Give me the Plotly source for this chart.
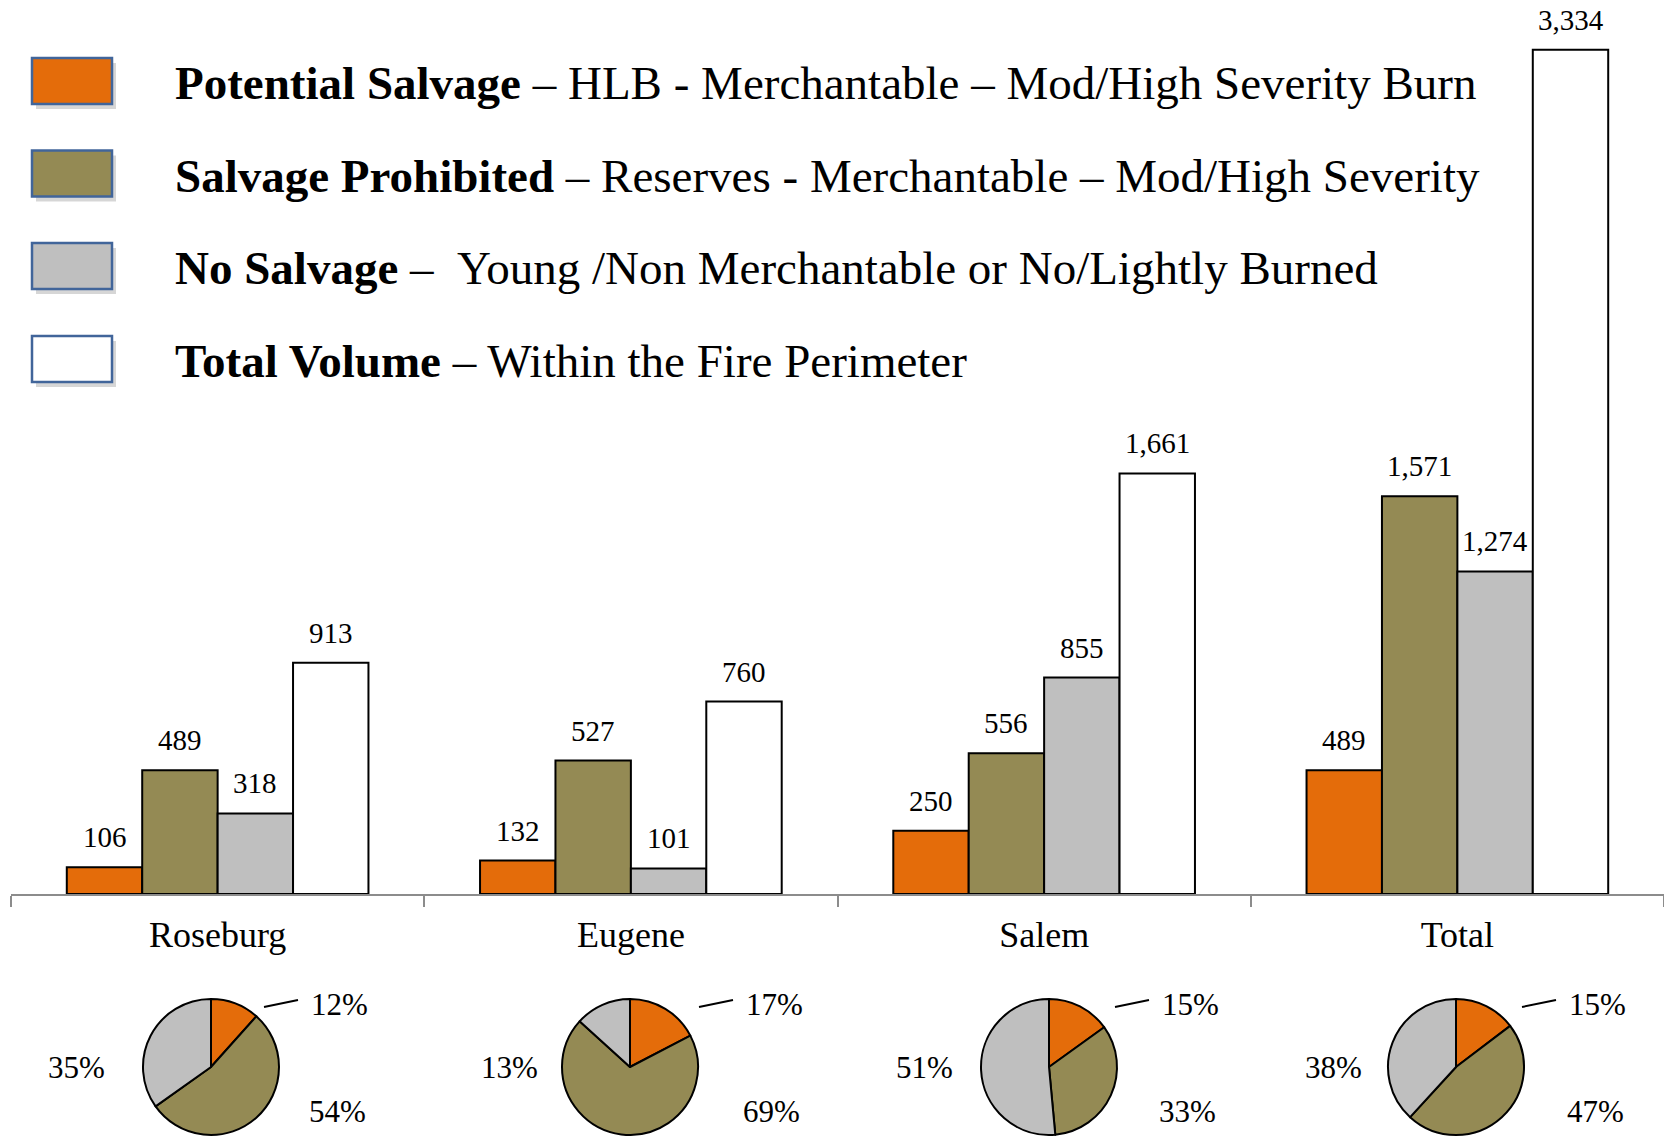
import plotly.graph_objects as go

# ---------------- data ----------------
categories = ["Roseburg", "Eugene", "Salem", "Total"]
potential_salvage = [106, 132, 250, 489]
salvage_prohibited = [489, 527, 556, 1571]
no_salvage = [318, 101, 855, 1274]
total_volume = [913, 760, 1661, 3334]

legend_bold = ["Potential Salvage", "Salvage Prohibited", "No Salvage", "Total Volume"]
legend_rest = [" \u2013 HLB - Merchantable \u2013 Mod/High Severity Burn",
               " \u2013 Reserves - Merchantable \u2013 Mod/High Severity",
               " \u2013 \u00a0Young /Non Merchantable or No/Lightly Burned",
               " \u2013 Within the Fire Perimeter"]

# ---------------- style ----------------
W, H = 1664, 1137
FONT = "Liberation Serif"
colors = ["#E46C0A", "#948A54", "#BFBFBF", "#FFFFFF"]
series = [potential_salvage, salvage_prohibited, no_salvage, total_volume]
names = ["Potential Salvage", "Salvage Prohibited", "No Salvage", "Total Volume"]

def px(x):
    return x / W

def py(y):
    return 1 - y / H

x_left, baseline = 11, 894
px_per_unit = 0.2532
ymax = baseline / px_per_unit
bargap = 0.27

fig = go.Figure()
for k, (vals, col, nm) in enumerate(zip(series, colors, names)):
    fig.add_trace(go.Bar(
        x=categories, y=vals, name=nm,
        marker=dict(color=col, line=dict(color="black", width=2)),
        showlegend=False, hoverinfo="x+y",
    ))

# value labels above bars
annotations = []
bw = (1 - bargap) / 4
for k, vals in enumerate(series):
    for i, v in enumerate(vals):
        annotations.append(dict(
            x=i + (k - 1.5) * bw, y=v, xref="x", yref="y",
            text=f"{v:,}", showarrow=False, yanchor="bottom", yshift=12,
            font=dict(family=FONT, size=29, color="black")))

# pies under each category (pixel placement of each pie and its labels)
pie_cx = [211, 630, 1049, 1456]
pie_cy, pie_r = 1067, 68
lab_off = [
    [(128, -63), (126, 44), (-135, 0)],
    [(144, -63), (141, 44), (-121, 0)],
    [(141, -63), (138, 44), (-125, 0)],
    [(141, -63), (139, 44), (-123, 0)],
]
shapes = []
for i, cat in enumerate(categories):
    vals = [potential_salvage[i], salvage_prohibited[i], no_salvage[i]]
    cx = pie_cx[i]
    fig.add_trace(go.Pie(
        values=vals, labels=names[:3], sort=False, direction="clockwise", rotation=0,
        marker=dict(colors=colors[:3], line=dict(color="black", width=2)),
        textinfo="none", showlegend=False, hole=0,
        domain=dict(x=[px(cx - pie_r), px(cx + pie_r)], y=[py(pie_cy + pie_r), py(pie_cy - pie_r)]),
    ))
    tot = sum(vals)
    pcts = [round(v / tot * 100) for v in vals]
    for p, (dx, dy) in zip(pcts, lab_off[i]):
        annotations.append(dict(
            x=px(cx + dx), y=py(pie_cy + dy), xref="paper", yref="paper",
            text=f"{p}%", showarrow=False, xanchor="center", yanchor="middle",
            font=dict(family=FONT, size=31, color="black")))
    ox = lab_off[i][0][0]
    shapes.append(dict(type="line", xref="paper", yref="paper",
                       x0=px(cx + ox - 75), y0=py(pie_cy - 60), x1=px(cx + ox - 41), y1=py(pie_cy - 67),
                       line=dict(color="black", width=2)))

# custom legend
row_y = [81, 173.5, 266, 359]
for j in range(4):
    cy = row_y[j]
    shapes.append(dict(type="rect", xref="paper", yref="paper",
                       x0=px(36), x1=px(116), y0=py(cy + 23 + 5), y1=py(cy - 23 + 5),
                       fillcolor="rgba(0,0,0,0.16)", line=dict(width=0), layer="above"))
    shapes.append(dict(type="rect", xref="paper", yref="paper",
                       x0=px(32), x1=px(112), y0=py(cy + 23), y1=py(cy - 23),
                       fillcolor=colors[j], line=dict(color="#41659A", width=2.5), layer="above"))
    annotations.append(dict(
        x=px(173), y=py(cy + 2), xref="paper", yref="paper",
        text=f"<b>{legend_bold[j]}</b>{legend_rest[j]}", showarrow=False,
        xanchor="left", yanchor="middle",
        font=dict(family=FONT, size=47, color="black")))

fig.update_layout(
    width=W, height=H,
    margin=dict(l=0, r=0, t=0, b=0),
    paper_bgcolor="white", plot_bgcolor="white",
    barmode="group", bargap=bargap, bargroupgap=0,
    xaxis=dict(domain=[px(x_left), 1], showgrid=False, showline=True,
               linecolor="#8C8C8C", linewidth=2, ticks="outside", tickson="boundaries",
               ticklen=11, tickcolor="#8C8C8C", tickwidth=1.5,
               tickfont=dict(family=FONT, size=36, color="black"), ticklabelstandoff=8),
    yaxis=dict(domain=[py(baseline), 1], range=[0, ymax], visible=False, showgrid=False),
    annotations=annotations, shapes=shapes,
    font=dict(family=FONT),
)

fig.write_html("out.html", config={"displayModeBar": False},
               post_script="document.body.style.margin='0';document.body.style.overflow='hidden';")
